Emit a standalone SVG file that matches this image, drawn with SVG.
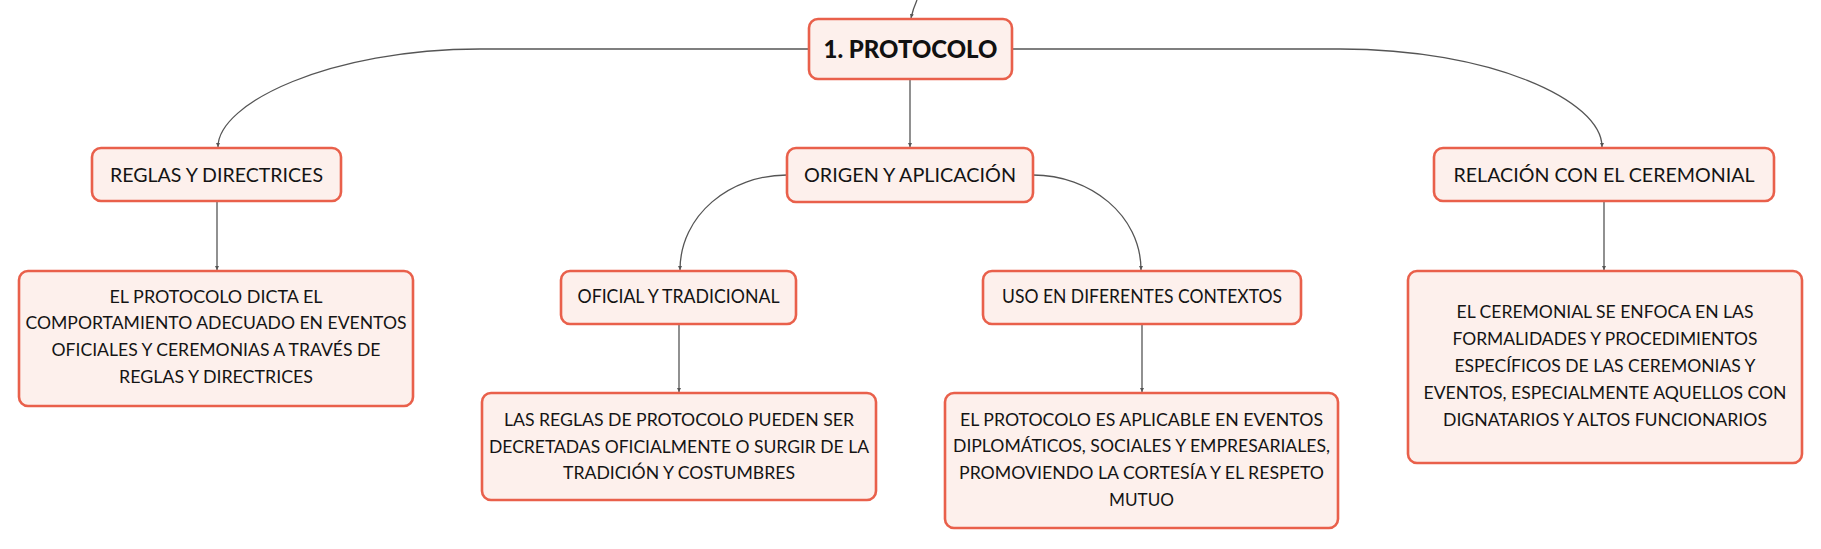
<svg xmlns="http://www.w3.org/2000/svg" width="1821" height="549" viewBox="0 0 1821 549">
<style>
.box{fill:#fdf0ec;stroke:#e9604b;stroke-width:2.6}
.t{font-family:Lato,"Open Sans",sans-serif;font-size:18.2px;fill:#141414;text-anchor:middle}
.l{font-family:Lato,"Open Sans",sans-serif;font-size:18.8px;fill:#141414;text-anchor:middle}
.title{font-family:Lato,"Open Sans",sans-serif;font-size:24.5px;font-weight:900;fill:#111;text-anchor:middle}
.c{fill:none;stroke:#555;stroke-width:1.3;marker-end:url(#ah)}
</style>
<defs>
<marker id="ah" viewBox="0 0 6 6" refX="6" refY="3" markerWidth="4" markerHeight="4" orient="auto" markerUnits="userSpaceOnUse">
<path d="M0,0 L6,3 L0,6 z" fill="#555"/>
</marker>
</defs>
<rect width="1821" height="549" fill="#fff"/>
<g id="connectors">
<path class="c" d="M917,0 Q913,9 911,18"/>
<path class="c" d="M809,49 H480 C330,49 218,103 218,147"/>
<path class="c" d="M910,79 V147"/>
<path class="c" d="M1012,49 H1340 C1490,49 1602,100 1602,147"/>
<path class="c" d="M217,201 V270"/>
<path class="c" d="M787,175 C730,175 680,215 680,270"/>
<path class="c" d="M1033,175 C1090,175 1141,215 1141,270"/>
<path class="c" d="M679,324 V392"/>
<path class="c" d="M1142,324 V392"/>
<path class="c" d="M1604,201 V270"/>
</g>
<g id="n-protocolo">
<rect class="box" x="809" y="19" width="203" height="60" rx="9"/>
<text class="title" x="910.5" y="58" textLength="174" lengthAdjust="spacingAndGlyphs">1. PROTOCOLO</text>
</g>
<g id="n-reglas">
<rect class="box" x="92" y="148" width="249" height="53" rx="9"/>
<text class="l" x="216.5" y="182" textLength="213" lengthAdjust="spacingAndGlyphs">REGLAS Y DIRECTRICES</text>
</g>
<g id="n-origen">
<rect class="box" x="787" y="148" width="246" height="54" rx="9"/>
<text class="l" x="910" y="182" textLength="212" lengthAdjust="spacingAndGlyphs">ORIGEN Y APLICACIÓN</text>
</g>
<g id="n-relacion">
<rect class="box" x="1434" y="148" width="340" height="53" rx="9"/>
<text class="l" x="1604" y="182" textLength="301" lengthAdjust="spacingAndGlyphs">RELACIÓN CON EL CEREMONIAL</text>
</g>
<g id="n-reglas-desc">
<rect class="box" x="19" y="271" width="394" height="135" rx="9"/>
<text class="t" x="216" y="303" textLength="213" lengthAdjust="spacingAndGlyphs">EL PROTOCOLO DICTA EL</text>
<text class="t" x="216" y="329" textLength="381" lengthAdjust="spacingAndGlyphs">COMPORTAMIENTO ADECUADO EN EVENTOS</text>
<text class="t" x="216" y="356" textLength="329" lengthAdjust="spacingAndGlyphs">OFICIALES Y CEREMONIAS A TRAVÉS DE</text>
<text class="t" x="216" y="383" textLength="194" lengthAdjust="spacingAndGlyphs">REGLAS Y DIRECTRICES</text>
</g>
<g id="n-oficial">
<rect class="box" x="561" y="271" width="235" height="53" rx="9"/>
<text class="l" x="678.5" y="303" textLength="202" lengthAdjust="spacingAndGlyphs">OFICIAL Y TRADICIONAL</text>
</g>
<g id="n-uso">
<rect class="box" x="983" y="271" width="318" height="53" rx="9"/>
<text class="l" x="1142" y="303" textLength="280" lengthAdjust="spacingAndGlyphs">USO EN DIFERENTES CONTEXTOS</text>
</g>
<g id="n-oficial-desc">
<rect class="box" x="482" y="393" width="394" height="107" rx="9"/>
<text class="t" x="679" y="426" textLength="350" lengthAdjust="spacingAndGlyphs">LAS REGLAS DE PROTOCOLO PUEDEN SER</text>
<text class="t" x="679" y="453" textLength="380" lengthAdjust="spacingAndGlyphs">DECRETADAS OFICIALMENTE O SURGIR DE LA</text>
<text class="t" x="679" y="479" textLength="232" lengthAdjust="spacingAndGlyphs">TRADICIÓN Y COSTUMBRES</text>
</g>
<g id="n-uso-desc">
<rect class="box" x="945" y="393" width="393" height="135" rx="9"/>
<text class="t" x="1141.5" y="426" textLength="363" lengthAdjust="spacingAndGlyphs">EL PROTOCOLO ES APLICABLE EN EVENTOS</text>
<text class="t" x="1141.5" y="452" textLength="377" lengthAdjust="spacingAndGlyphs">DIPLOMÁTICOS, SOCIALES Y EMPRESARIALES,</text>
<text class="t" x="1141.5" y="479" textLength="365" lengthAdjust="spacingAndGlyphs">PROMOVIENDO LA CORTESÍA Y EL RESPETO</text>
<text class="t" x="1141.5" y="506" textLength="65" lengthAdjust="spacingAndGlyphs">MUTUO</text>
</g>
<g id="n-relacion-desc">
<rect class="box" x="1408" y="271" width="394" height="192" rx="9"/>
<text class="t" x="1605" y="318" textLength="297" lengthAdjust="spacingAndGlyphs">EL CEREMONIAL SE ENFOCA EN LAS</text>
<text class="t" x="1605" y="345" textLength="305" lengthAdjust="spacingAndGlyphs">FORMALIDADES Y PROCEDIMIENTOS</text>
<text class="t" x="1605" y="372" textLength="301" lengthAdjust="spacingAndGlyphs">ESPECÍFICOS DE LAS CEREMONIAS Y</text>
<text class="t" x="1605" y="399" textLength="363" lengthAdjust="spacingAndGlyphs">EVENTOS, ESPECIALMENTE AQUELLOS CON</text>
<text class="t" x="1605" y="426" textLength="324" lengthAdjust="spacingAndGlyphs">DIGNATARIOS Y ALTOS FUNCIONARIOS</text>
</g>
</svg>
